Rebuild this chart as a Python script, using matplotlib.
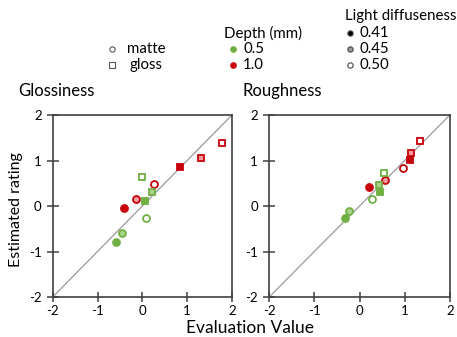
import matplotlib
matplotlib.use("Agg")
import matplotlib.pyplot as plt

plt.rcParams['font.family'] = ['Lato', 'DejaVu Sans']
plt.rcParams['axes.unicode_minus'] = False

# ---------------- data ----------------
# order of points: shape x depth x diffuseness
shapes = ["matte"] * 6 + ["gloss"] * 6
depths = ([0.5] * 3 + [1.0] * 3) * 2
diffuse = [0.41, 0.45, 0.50] * 4

gloss_eval = [-0.58, -0.45, 0.09, -0.40, -0.15, 0.27,
              0.06, 0.22, -0.01, 0.83, 1.32, 1.78]
gloss_est = [-0.80, -0.59, -0.26, -0.04, 0.15, 0.49,
             0.12, 0.31, 0.64, 0.85, 1.06, 1.39]

rough_eval = [-0.33, -0.24, 0.27, 0.20, 0.56, 0.97,
              0.46, 0.44, 0.54, 1.11, 1.15, 1.33]
rough_est = [-0.27, -0.12, 0.15, 0.42, 0.57, 0.83,
             0.31, 0.47, 0.73, 1.01, 1.16, 1.42]

ticks = [-2, -1, 0, 1, 2]
#---------------------------------------

edge_col = {0.5: "#70b043", 1.0: "#c8000a"}
light_col = {0.5: "#a8d48a", 1.0: "#f29a9e"}
shape_mk = {"matte": "o", "gloss": "s"}


def face(d, l):
    if l == 0.41:
        return edge_col[d]
    if l == 0.45:
        return light_col[d]
    return "white"


fig = plt.figure(figsize=(4.57, 3.37), dpi=100)
ax1 = fig.add_axes([0.1153, 0.1187, 0.3923, 0.540])
ax2 = fig.add_axes([0.589, 0.1187, 0.3954, 0.540])


def draw(ax, xs, ys, title, tx):
    ax.plot([-2, 2], [-2, 2], color="#999999", lw=0.9, zorder=1)
    for s, d, l, x, y in zip(shapes, depths, diffuse, xs, ys):
        ax.plot(x, y, marker=shape_mk[s], ms=5.0, mew=1.3,
                mec=edge_col[d], mfc=face(d, l), ls="none", zorder=3)
    ax.set_xlim(-2, 2)
    ax.set_ylim(-2, 2)
    ax.set_xticks(ticks)
    ax.set_yticks(ticks)
    ax.tick_params(axis="x", direction="inout", length=7, width=1.1,
                   color="#404040", labelsize=9.5, pad=2)
    ax.tick_params(axis="y", direction="inout", length=8, width=1.1,
                   color="#404040", labelsize=9.5, pad=4)
    for sp in ax.spines.values():
        sp.set_color("#404040")
        sp.set_linewidth(1.2)
    ax.text(tx, 1.09, title, transform=ax.transAxes, fontsize=12,
            ha="left", va="bottom")


draw(ax1, gloss_eval, gloss_est, "Glossiness", -0.194)
draw(ax2, rough_eval, rough_est, "Roughness", -0.146)

fig.text(16 / 457, 1 - 210 / 337, "Estimated rating", rotation=90,
         ha="center", va="center", fontsize=11.5)
fig.text(250 / 457, 1 - 320 / 337, "Evaluation Value", ha="center",
         va="top", fontsize=12.5)

# legend, drawn on an overlay in pixel units
lg = fig.add_axes([0, 0, 1, 1], zorder=-1)
lg.set_xlim(0, 457)
lg.set_ylim(337, 0)
lg.axis("off")
fs = 10.8
lg.plot(112, 49, "o", ms=3.8, mfc="white", mec="#555555", mew=0.8)
lg.plot(112, 65, "s", ms=3.8, mfc="white", mec="#555555", mew=0.8)
lg.text(127, 49, "matte", fontsize=fs, va="center")
lg.text(130, 65, "gloss", fontsize=fs, va="center")

lg.text(224, 33, "Depth (mm)", fontsize=fs, va="center")
lg.plot(233, 49, "o", ms=3.8, color=edge_col[0.5])
lg.plot(233, 65, "o", ms=3.8, color=edge_col[1.0])
lg.text(243, 49, "0.5", fontsize=fs, va="center")
lg.text(243, 65, "1.0", fontsize=fs, va="center")

lg.text(345, 16, "Light diffuseness", fontsize=fs, va="center")
for yy, fc, lab in [(33, "black", "0.41"), (49, "#999999", "0.45"),
                    (65, "white", "0.50")]:
    lg.plot(350, yy, "o", ms=3.8, mfc=fc, mec="#444444", mew=0.8)
    lg.text(360, yy, lab, fontsize=fs, va="center")

fig.savefig("out.png", dpi=100)
